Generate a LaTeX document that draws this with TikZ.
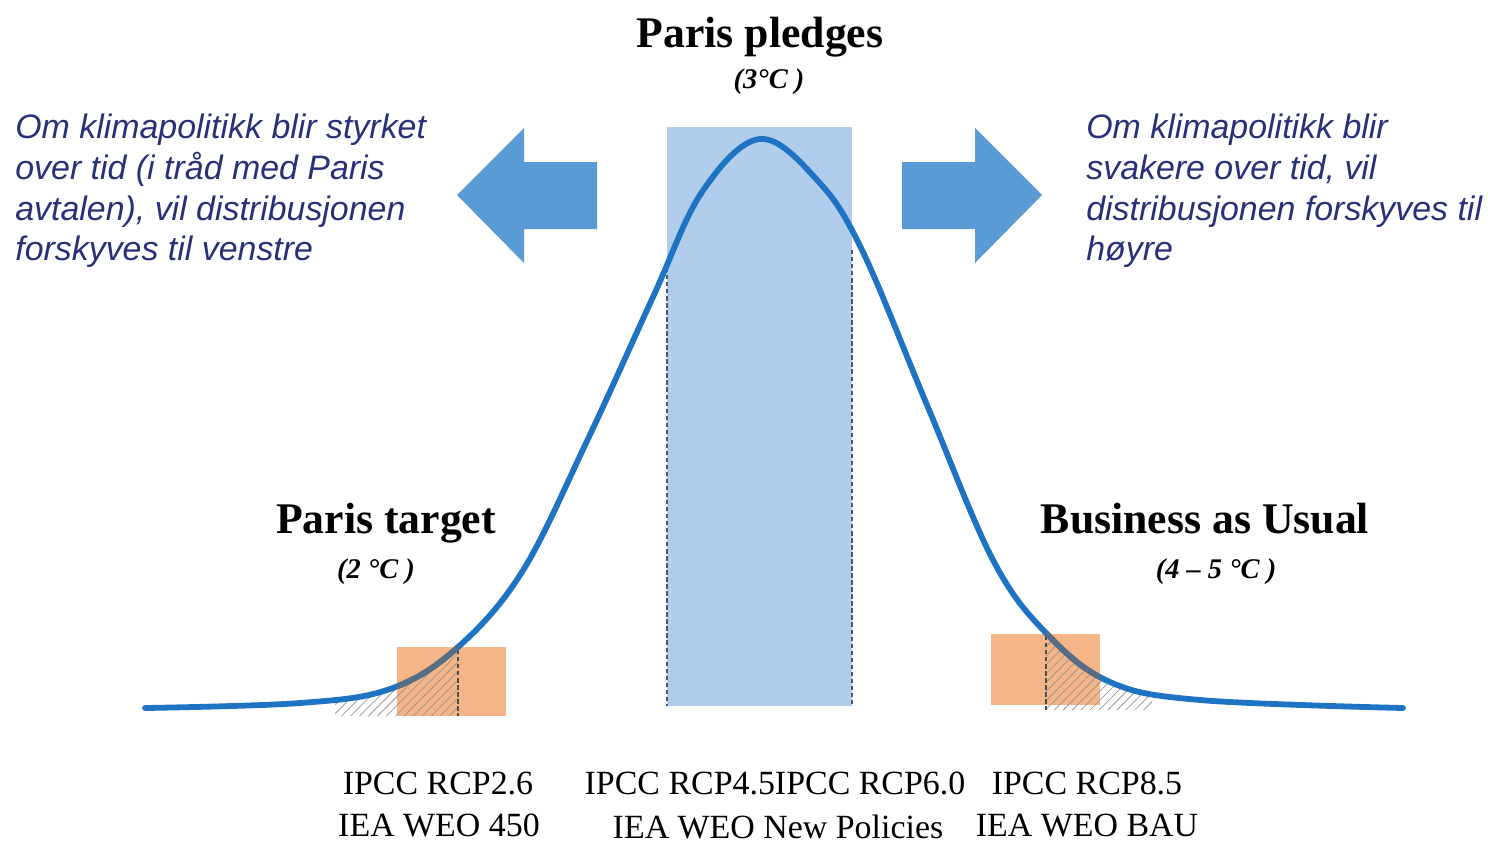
\documentclass[tikz,border=0pt]{standalone}
\usepackage{fontspec}
\setmainfont{Liberation Serif}
\newfontfamily\arialfont{Liberation Sans}
\usetikzlibrary{patterns.meta}
\definecolor{curveblue}{RGB}{30,115,195}
\definecolor{rectblue}{RGB}{176,206,235}
\definecolor{arrowblue}{RGB}{91,155,213}
\definecolor{boxorange}{RGB}{246,181,135}
\definecolor{navytext}{RGB}{40,48,120}
\definecolor{dashgray}{RGB}{70,90,120}
\newcommand\bellcurve{plot[smooth,tension=0.6] coordinates {(145,708) (300,703) (390,689) (457,648) (522,572) (587,441) (653,297) (702,192) (760,139) (818,181) (862,250) (927,405) (993,560) (1047,634) (1110,682) (1200,700) (1403,708)}}
\tikzset{
  titletext/.style={font=\fontsize{24.9}{28}\selectfont\bfseries, anchor=base, inner sep=0pt},
  degtext/.style={font=\fontsize{16.2}{19}\selectfont\bfseries\itshape, anchor=base, inner sep=0pt},
  bluetext/.style={font=\arialfont\itshape\fontsize{19.3}{23}\selectfont, text=navytext, anchor=base west, inner sep=0pt},
  scentext/.style={font=\fontsize{19.3}{23}\selectfont, anchor=base, inner sep=0pt},
  curveline/.style={draw=curveblue, line width=3.3pt, line cap=round, line join=round},
  grayline/.style={draw=gray!85!black, line width=3.3pt, opacity=0.75},
  hatchfill/.style={pattern={Lines[angle=45,distance=3.6pt,line width=0.45pt]}, pattern color=gray!80},
  bigarrow/.style={fill=arrowblue, draw=none},
  dashv/.style={draw=dashgray, line width=0.8pt, dash pattern=on 2.5pt off 1.5pt}
}
\begin{document}
\begin{tikzpicture}[x=0.02cm,y=-0.02cm]
\useasboundingbox (0,0) rectangle (1488,843);
% central band
\fill[rectblue] (667,127) rectangle (852,706);
% orange boxes
\fill[boxorange] (397,647) rectangle (506,716);
\fill[boxorange] (991,634) rectangle (1100,705);
% hatched tails
\begin{scope}
  \clip (335,600) rectangle (458,716);
  \clip \bellcurve -- (1403,716) -- (145,716) -- cycle;
  \fill[hatchfill] (335,600) rectangle (458,716);
\end{scope}
\begin{scope}
  \clip (1046,600) rectangle (1152,710);
  \clip \bellcurve -- (1403,710) -- (145,710) -- cycle;
  \fill[hatchfill] (1046,600) rectangle (1152,710);
\end{scope}
% arrows
\fill[bigarrow] (457,195) -- (524,128) -- (524,162) -- (597,162) -- (597,229) -- (524,229) -- (524,263) -- cycle;
\fill[bigarrow] (902,162) -- (975,162) -- (975,128) -- (1042,195) -- (975,263) -- (975,229) -- (902,229) -- cycle;
% dashed verticals
\coordinate (dl1) at (667,268); \coordinate (dl2) at (667,706);
\coordinate (dr1) at (852,250); \coordinate (dr2) at (852,706);
\draw[dashv] (dl1) -- (dl2);
\draw[dashv] (dr1) -- (dr2);
\coordinate (hl1) at (458,650); \coordinate (hl2) at (458,716);
\coordinate (hr1) at (1046,636); \coordinate (hr2) at (1046,710);
\draw[dashv, draw=gray!60!black] (hl1) -- (hl2);
\draw[dashv, draw=gray!60!black] (hr1) -- (hr2);
% curve
\draw[curveline] \bellcurve;
\begin{scope}
  \clip (397,600) rectangle (458,720);
  \draw[grayline] \bellcurve;
\end{scope}
\begin{scope}
  \clip (1046,600) rectangle (1100,720);
  \draw[grayline] \bellcurve;
\end{scope}
% titles
\node[titletext] (pledges) at (760,47) {Paris pledges};
\node[degtext] (pledgesdeg) at (769,88) {(3°C )};
\node[titletext] (target) at (386,533) {Paris target};
\node[degtext] (targetdeg) at (376,578) {(2 °C )};
\node[titletext] (bau) at (1205,533) {Business as Usual};
\node[degtext] (baudeg) at (1216,578) {(4 – 5 °C )};
% blue explanatory text
\node[bluetext] (l1) at (15,138) {Om klimapolitikk blir styrket};
\node[bluetext] (l2) at (15,179) {over tid (i tråd med Paris};
\node[bluetext] (l3) at (15,220) {avtalen), vil distribusjonen};
\node[bluetext] (l4) at (15,260) {forskyves til venstre};
\node[bluetext] (r1) at (1086,138) {Om klimapolitikk blir};
\node[bluetext] (r2) at (1086,179) {svakere over tid, vil};
\node[bluetext] (r3) at (1086,220) {distribusjonen forskyves til};
\node[bluetext] (r4) at (1086,260) {høyre};
% scenario labels
\node[scentext] (s1a) at (438,794) {IPCC RCP2.6};
\node[scentext] (s1b) at (439,836) {IEA WEO 450};
\node[scentext] (s2a) at (775,794) {IPCC RCP4.5IPCC RCP6.0};
\node[scentext] (s2b) at (778,838) {IEA WEO New Policies};
\node[scentext] (s3a) at (1087,794) {IPCC RCP8.5};
\node[scentext] (s3b) at (1087,836) {IEA WEO BAU};
\end{tikzpicture}
\end{document}
